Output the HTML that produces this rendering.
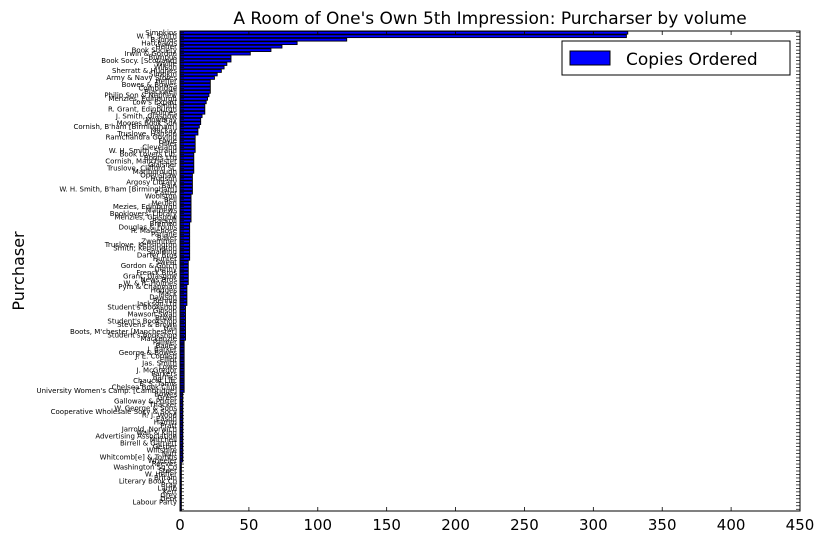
<!DOCTYPE html>
<html><head><meta charset="utf-8"><style>
body{margin:0;background:#fff;}
svg{display:block;font-family:"DejaVu Sans","Liberation Sans",sans-serif;}
</style></head><body>
<svg id="chart" width="826" height="545" viewBox="0 0 826 545" xmlns="http://www.w3.org/2000/svg">
<rect width="826" height="545" fill="#fff"/>
<text x="490" y="24" font-size="17" text-anchor="middle">A Room of One's Own 5th Impression: Purcharser by volume</text>
<text x="24" y="271" font-size="16" text-anchor="middle" transform="rotate(-90 24 271)">Purchaser</text>
<g id="bars"></g>
<g id="ticks"></g>
<rect x="180" y="31" width="620" height="480" fill="none" stroke="#000" stroke-width="1"/>
<g>
<rect x="562" y="41" width="228" height="34" fill="#fff" stroke="#000" stroke-width="1"/>
<rect x="570" y="51" width="40" height="14" fill="#0000ff" stroke="#000" stroke-width="1"/>
<text x="626" y="65" font-size="17">Copies Ordered</text>
</g>
</svg>
<script>
const labels=["Simpkins","W. H. Smith","B-Jones","Hatchards","Heffer","Book Society","Irwin & Gordon","Bumpus","Book Socy. [Scotland]","Wyllie","Wilson","Sherratt & Hughes","Simpkin","Army & Navy Stores","Heffer","Bowes & Bowes","Combridge","Blackwell","Philip Son & Nephew","Menzies, Edinburgh","Low's Export","Smith","R. Grant, Edinburgh","Holmes","J. Smith, Glasgow","Mowbray","Moores Book Son","Cornish, B'ham [Birmingham]","Mackay","Truslove, Hanson","Ramchandra Govind","Foyle","Hiller","Cleveland","W. H. Smith, Strand","Book Lovers Lib.","Boots Ltd","Cornish, Manchester","Glaisher","Truslove, Clifford St.","Marlborough","Openshaw","Hudson","Argosy Library","Bain","W. H. Smith, B'ham [Birmingham]","Carter","Woolston","Bell","Meulen","Mezies, Edinburgh","Mathews","Booklovers' Library","Menzies, Glasgow","Rackoll","Bremen","Douglas & Foulis","R. Maclehose","Parlane","Baker","Zwemmer","Truslove, Kensington","Smith, Kensington","Spalding","Darter Bros","Hunter","Sweet","Gordon & Gotch","Denny","Frenck Bros","Grant, Glasgow","News Bros","W. & R. Holmes","Pym & Chapman","Hodges","Mack","Dawson","Rennie","Jackson Ltd","Student's Bookshop","Gibson","Mawson Swan","Brown","Student's Bookshop","Stevens & Brown","Hall","Boots, M'chester [Manchester]","Student's Bookshop","Mackenzie","Palmer","Bailey","J. Barker","George & Bowes","J. E. Cornish","Elliot","Jas. Smith","Lowe","J. McGregor","Parkers","Barnes","Chaucer Lib.","E. S. Tamis","Chelsea Book Club","University Women's Camp. [Cambridge]","Bowes","Greer","Galloway & Porter","Thacker","W. George & Sons","Cooperative Wholesale Socy & Socy","R. J. Wood","Eason","Hamm","Pratt","Jarrold, Norwich","Walt & King","Advertising Association","Mitchell","Birrell & Garnett","Gerber","Wiltshire","Nutt","Whitcomb[e] & Tombs","Wheeler","Reeves","Washington Sq Co","Steer","W. Heffer","Britain","Literary Book Co","Bray","Lamb","Kerr","Grey","Dent","Labour Party"];
const values=[325,324,121,85,74,66,51,37,37,34,32,30,27,25,22,22,22,22,21,20,19,18,18,18,16,15,15,14,13,13,11,11,11,11,11,10,10,10,10,10,10,9,9,9,9,9,9,8,8,8,8,8,8,8,8,7,7,7,7,7,7,7,7,7,7,7,6,6,6,6,6,6,6,5,5,5,5,5,5,4,4,4,4,4,4,4,4,4,4,3,3,3,3,3,3,3,3,3,3,3,3,3,3,3,2,2,2,2,2,2,2,2,2,2,2,2,2,2,2,2,2,2,2,2,1,1,1,1,1,1,1,1,1,1,1,1,1,1];
const xTicks=[0,50,100,150,200,250,300,350,400,450];
const NS="http://www.w3.org/2000/svg";
const L=180,R=800,T=31,B=511,XMAX=450;
const n=values.length, band=(B-T)/n;
const xs=v=>L+v/XMAX*(R-L);
const yc=i=>T+band*(i+0.5);
const bars=document.getElementById('bars'), ticks=document.getElementById('ticks');
function mk(tag,attrs,parent){const e=document.createElementNS(NS,tag);for(const k in attrs)e.setAttribute(k,attrs[k]);parent.appendChild(e);return e;}
for(let i=0;i<n;i++){
  const h=band*0.8;
  const r=mk('rect',{x:L,y:yc(i)-h/2,width:xs(values[i])-L,height:h,fill:'#0000ff',stroke:'#000','stroke-width':0.9},bars);
  
  
  const t=mk('text',{x:L-3,y:yc(i)+2.2,'font-size':7,'text-anchor':'end',fill:'#000'},ticks);
  t.textContent=labels[i]||'';
  
  
  mk('line',{x1:L,x2:L+4,y1:yc(i),y2:yc(i),stroke:'#000','stroke-width':0.7},ticks);
  mk('line',{x1:R-4,x2:R,y1:yc(i),y2:yc(i),stroke:'#000','stroke-width':0.7},ticks);
}
for(const v of xTicks){
  const x=xs(v);
  mk('line',{x1:x,x2:x,y1:B,y2:B-4,stroke:'#000','stroke-width':0.8},ticks);
  mk('line',{x1:x,x2:x,y1:T,y2:T+4,stroke:'#000','stroke-width':0.8},ticks);
  const t=mk('text',{x:x,y:B+19,'font-size':15,'text-anchor':'middle'},ticks);
  t.textContent=v;
  
  
}
</script>
</body></html>
